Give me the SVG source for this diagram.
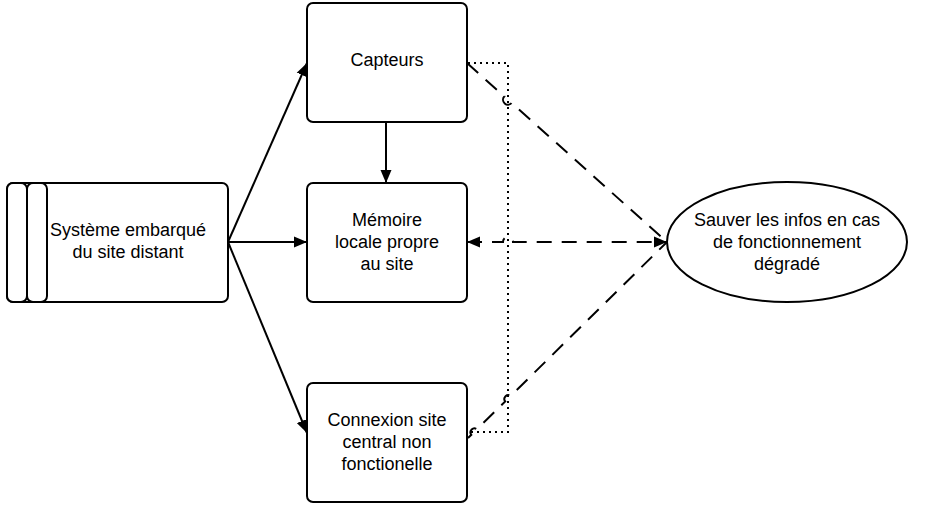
<svg xmlns="http://www.w3.org/2000/svg" width="949" height="509" viewBox="0 0 949 509">
<defs>
<marker id="arr" markerUnits="userSpaceOnUse" markerWidth="14" markerHeight="12" refX="13" refY="6" orient="auto-start-reverse">
<path d="M0,0.5 L13,6 L0,11.5 z" fill="#000"/>
</marker>
<style>
.box{fill:#fff;stroke:#000;stroke-width:2}
.t{font-family:"Liberation Sans",Arial,sans-serif;font-size:18px;fill:#000;text-anchor:middle}
.solid{fill:none;stroke:#000;stroke-width:2}
.dash{fill:none;stroke:#000;stroke-width:2;stroke-dasharray:15 10}
.dot{fill:none;stroke:#000;stroke-width:2;stroke-dasharray:2 4}
</style>
</defs>
<rect width="949" height="509" fill="#fff"/>
<g id="connectors">
<path class="solid" d="M228,242 L307,63" marker-end="url(#arr)"/>
<path class="solid" d="M228,242 L307,242" marker-end="url(#arr)"/>
<path class="solid" d="M228,242 L307,433" marker-end="url(#arr)"/>
<path class="solid" d="M386,123 L386,183" marker-end="url(#arr)"/>
<path class="dot" d="M468,63 L508,63 L508,432 L468,432"/>
<path class="dash" d="M467,63 L504.3,96.4 A4.5,4.5 0 0 0 511.7,103 L667,242"/>
<path class="dash" d="M467,242 L503,242 A5,5 0 0 1 513,242 L667,242" marker-start="url(#arr)" marker-end="url(#arr)"/>
<path class="dash" d="M468,438 L471.3,434.8 A4,4 0 0 1 476.9,429.2 L505.2,401.4 A4,4 0 0 1 510.8,395.8 L667,242"/>
</g>
<g id="n-systeme">
<rect class="box" x="7" y="183" width="221" height="119" rx="6"/>
<rect class="box" x="7" y="183" width="20" height="119" rx="6"/>
<rect class="box" x="27" y="183" width="20" height="119" rx="6"/>
<text class="t" x="128" y="235.5">Système embarqué</text>
<text class="t" x="128" y="257.5">du site distant</text>
</g>
<g id="n-capteurs">
<rect class="box" x="307" y="3" width="160" height="119" rx="6"/>
<text class="t" x="387" y="66">Capteurs</text>
</g>
<g id="n-memoire">
<rect class="box" x="307" y="183" width="160" height="119" rx="6"/>
<text class="t" x="387" y="225.5">Mémoire</text>
<text class="t" x="387" y="247.5">locale propre</text>
<text class="t" x="387" y="269.5">au site</text>
</g>
<g id="n-connexion">
<rect class="box" x="307" y="383" width="160" height="119" rx="6"/>
<text class="t" x="387" y="426">Connexion site</text>
<text class="t" x="387" y="448">central non</text>
<text class="t" x="387" y="470">fonctionelle</text>
</g>
<g id="n-sauver">
<ellipse class="box" cx="787" cy="242" rx="120" ry="60"/>
<text class="t" x="787" y="225.5">Sauver les infos en cas</text>
<text class="t" x="787" y="247.5">de fonctionnement</text>
<text class="t" x="787" y="269.5">dégradé</text>
</g>
</svg>
